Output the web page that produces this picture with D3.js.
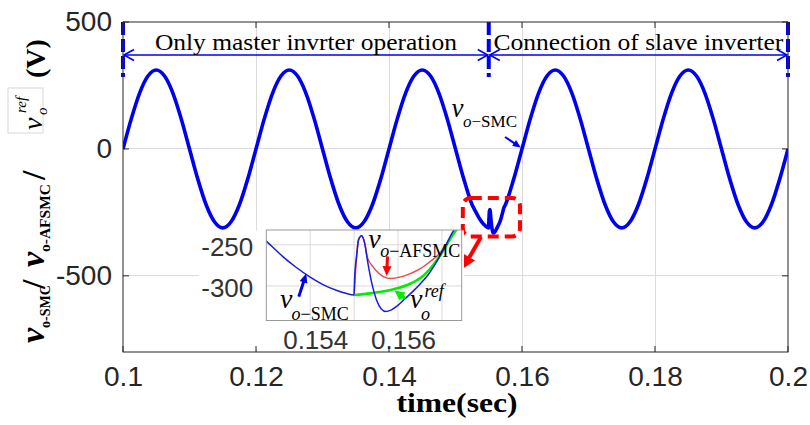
<!DOCTYPE html>
<html>
<head>
<meta charset="utf-8">
<script src="https://cdn.jsdelivr.net/npm/d3@7"></script>
<style>
  html, body { margin: 0; padding: 0; background: #fff; }
  svg { display: block; }
</style>
</head>
<body>
<svg id="chart" width="810" height="425"></svg>
<script>
// ---------- data ----------
// Output voltage of the SMC-controlled inverter (V) against time (s)
const smcTime = [
  0.1, 0.10125, 0.1025, 0.10375, 0.105, 0.10625, 0.1075, 0.10875,
  0.11, 0.11125, 0.1125, 0.11375, 0.115, 0.11625, 0.1175, 0.11875,
  0.12, 0.12125, 0.1225, 0.12375, 0.125, 0.12625, 0.1275, 0.12875,
  0.13, 0.13125, 0.1325, 0.13375, 0.135, 0.13625, 0.1375, 0.13875,
  0.14, 0.14125, 0.1425, 0.14375, 0.145, 0.14625, 0.1475, 0.14875,
  0.15, 0.15125, 0.1525,
  0.15303, 0.15337, 0.15367, 0.15399, 0.15428, 0.15458, 0.15481, 0.155,
  0.15501, 0.15506, 0.1551, 0.15517, 0.15524, 0.15531, 0.1554, 0.15551,
  0.15562, 0.15572, 0.15585, 0.15599, 0.15617, 0.15635, 0.15653, 0.15669,
  0.15683, 0.15697, 0.15712, 0.15726,
  0.1575, 0.15875,
  0.16, 0.16125, 0.1625, 0.16375, 0.165, 0.16625, 0.1675, 0.16875,
  0.17, 0.17125, 0.1725, 0.17375, 0.175, 0.17625, 0.1775, 0.17875,
  0.18, 0.18125, 0.1825, 0.18375, 0.185, 0.18625, 0.1875, 0.18875,
  0.19, 0.19125, 0.1925, 0.19375, 0.195, 0.19625, 0.1975, 0.19875,
  0.2
];
const smcVolt = [
  0, 119, 220, 287, 311, 287, 220, 119,
  0, -119, -220, -287, -311, -287, -220, -119,
  0, 119, 220, 287, 311, 287, 220, 119,
  0, -119, -220, -287, -311, -287, -220, -119,
  0, 119, 220, 287, 311, 287, 220, 119,
  0, -119, -220,
  -247, -264, -277, -289, -298, -305, -309, -311,
  -293, -262, -244, -239, -248, -271, -296, -317,
  -328, -331, -329, -324, -315, -306, -296, -286,
  -275, -262, -247, -233,
  -220, -119,
  0, 119, 220, 287, 311, 287, 220, 119,
  0, -119, -220, -287, -311, -287, -220, -119,
  0, 119, 220, 287, 311, 287, 220, 119,
  0, -119, -220, -287, -311, -287, -220, -119,
  0
];
// Output voltage with the AFSMC controller after the slave inverter connects
const afsmcTime = [0.155, 0.15506, 0.1551, 0.15517, 0.15524, 0.1553, 0.15545, 0.15568,
                   0.15583, 0.15606, 0.15628, 0.15651, 0.15674, 0.1569, 0.15708, 0.15726, 0.1575];
const afsmcVolt = [-311, -262, -244, -239, -248, -265, -278, -289,
                   -291, -289, -285, -279, -270, -263, -251, -236, -220];
// Reference voltage over the same interval
const refTime = [0.155, 0.15537, 0.1559, 0.15629, 0.15659, 0.15681, 0.15697, 0.15712, 0.15726, 0.1575];
const refVolt = [-311, -309, -304, -297, -287, -274, -262, -249, -237, -220];

const xTicks = [0.1, 0.12, 0.14, 0.16, 0.18, 0.2];
const xTickLabels = ["0.1", "0.12", "0.14", "0.16", "0.18", "0.2"];
const yTicks = [-500, 0, 500];
const yTickLabels = ["-500", "0", "500"];
const insetXTicks = [0.154, 0.155, 0.156, 0.157];
const insetXTickLabels = ["0.154", "", "0.156", ""];
const insetYTicks = [-300, -250];
const insetYTickLabels = ["-300", "-250"];
const stageBounds = [0.1, 0.155, 0.2];
const stageLabels = ["Only master invrter operation", "Connection of slave inverter"];

// ---------- setup ----------
const SERIF = '"Liberation Serif","Times New Roman",serif';
const SANS = '"Liberation Sans",Arial,sans-serif';
const BLUE = "#0000f0";
const RED = "#ff0000";
const GREEN = "#00ee00";
const AXIS = "#262626";

const plot = { left: 123, right: 788, top: 22, bottom: 352 };
const x = d3.scaleLinear().domain([0.1, 0.2]).range([plot.left, plot.right]);
const y = d3.scaleLinear().domain([-800, 500]).range([plot.bottom, plot.top]);

const svg = d3.select("#chart");
const defs = svg.append("defs");
defs.append("clipPath").attr("id", "plotClip").append("rect")
  .attr("x", plot.left).attr("y", plot.top)
  .attr("width", plot.right - plot.left).attr("height", plot.bottom - plot.top);

const pairs = (ts, vs) => ts.map((t, i) => [t, vs[i]]);

function arrow(g, x1, y1, x2, y2, color, w, hl, hw) {
  const dx = x2 - x1, dy = y2 - y1, L = Math.hypot(dx, dy);
  const ux = dx / L, uy = dy / L;
  const bx = x2 - ux * hl, by = y2 - uy * hl;
  g.append("line").attr("x1", x1).attr("y1", y1)
    .attr("x2", bx + ux).attr("y2", by + uy)
    .attr("stroke", color).attr("stroke-width", w);
  g.append("path")
    .attr("d", `M${x2},${y2}L${bx - uy * hw / 2},${by + ux * hw / 2}L${bx + uy * hw / 2},${by - ux * hw / 2}Z`)
    .attr("fill", color);
}

// italic "v" followed by a subscript such as "o−SMC", as one text element
function vSub(g, px, py, sub, vSize, subSize, subDx, subDy) {
  const t = g.append("text").attr("x", px).attr("y", py).attr("font-family", SERIF);
  t.append("tspan").attr("font-style", "italic").attr("font-size", vSize).text("v");
  t.append("tspan").attr("x", px + subDx).attr("y", py + subDy)
    .attr("font-style", "italic").attr("font-size", subSize).text("o");
  t.append("tspan").attr("font-size", subSize).text(sub);
}

// ---------- grid ----------
const grid = svg.append("g").attr("stroke", "#dcdcdc").attr("stroke-width", 1)
  .attr("shape-rendering", "crispEdges");
grid.selectAll("line.gx").data(xTicks.slice(1, -1)).join("line").attr("class", "gx")
  .attr("x1", d => x(d)).attr("x2", d => x(d)).attr("y1", plot.top).attr("y2", plot.bottom);
grid.selectAll("line.gy").data(yTicks.filter(v => v < 500)).join("line").attr("class", "gy")
  .attr("y1", d => y(d)).attr("y2", d => y(d)).attr("x1", plot.left).attr("x2", plot.right);

// ---------- main curve ----------
const line = d3.line().x(d => x(d[0])).y(d => y(d[1])).curve(d3.curveMonotoneX);
svg.append("path").datum(pairs(smcTime, smcVolt))
  .attr("d", line).attr("fill", "none").attr("stroke", BLUE)
  .attr("stroke-width", 3.6).attr("stroke-linejoin", "round")
  .attr("clip-path", "url(#plotClip)");

// ---------- operating stages ----------
const stages = svg.append("g");
stageBounds.forEach(t => {
  stages.append("line")
    .attr("x1", x(t)).attr("x2", x(t)).attr("y1", y(500)).attr("y2", y(283))
    .attr("stroke", BLUE).attr("stroke-width", 4).attr("stroke-dasharray", "13,4");
});
const arrowV = 370;
const stageWidths = [302, 290];
for (let i = 0; i < stageLabels.length; i++) {
  const a = x(stageBounds[i]) + 1, b = x(stageBounds[i + 1]) - 1, yy = y(arrowV);
  stages.append("line").attr("x1", a).attr("x2", b).attr("y1", yy).attr("y2", yy)
    .attr("stroke", BLUE).attr("stroke-width", 1.6);
  stages.append("path")
    .attr("d", `M${a + 10},${yy - 5.5}L${a},${yy}L${a + 10},${yy + 5.5}M${b - 10},${yy - 5.5}L${b},${yy}L${b - 10},${yy + 5.5}`)
    .attr("fill", "none").attr("stroke", BLUE).attr("stroke-width", 1.6);
  stages.append("text")
    .attr("x", (a + b) / 2).attr("y", y(391.5))
    .attr("text-anchor", "middle").attr("font-family", SERIF).attr("font-size", 24)
    .attr("textLength", stageWidths[i]).attr("lengthAdjust", "spacingAndGlyphs")
    .text(stageLabels[i]);
}

// ---------- annotations on the main plot ----------
const ann = svg.append("g");
vSub(ann, x(0.1494), y(127), "−SMC", 27, 17, 11.5, 10);
arrow(ann, x(0.15744), y(47), x(0.15982), y(6), BLUE, 2, 8, 7);
ann.append("rect")
  .attr("x", x(0.1511)).attr("y", y(-193))
  .attr("width", x(0.1597) - x(0.1511)).attr("height", y(-345) - y(-193))
  .attr("rx", 8).attr("fill", "none").attr("stroke", RED)
  .attr("stroke-width", 4).attr("stroke-dasharray", "11,6");
arrow(ann, x(0.15383), y(-347), x(0.15113), y(-471), RED, 4, 13, 13);

// ---------- zoomed inset ----------
const ix = d3.scaleLinear().domain([0.153, 0.15745]).range([266.3, 461.7]);
const iy = d3.scaleLinear().domain([-342, -232]).range([320.5, 230]);
defs.append("clipPath").attr("id", "insetClip").append("rect")
  .attr("x", 266.3).attr("y", 230).attr("width", 195.4).attr("height", 90.5);

const inset = svg.append("g");
inset.append("rect").attr("x", 199).attr("y", 230.5).attr("width", 265).attr("height", 118.5)
  .attr("fill", "#fff");
const ig = inset.append("g").attr("stroke", "#dadada").attr("stroke-width", 1);
ig.selectAll("line.ix").data(insetXTicks).join("line").attr("class", "ix")
  .attr("x1", d => ix(d)).attr("x2", d => ix(d)).attr("y1", 230).attr("y2", 320.5);
ig.selectAll("line.iy").data(insetYTicks).join("line").attr("class", "iy")
  .attr("y1", d => iy(d)).attr("y2", d => iy(d)).attr("x1", 266.3).attr("x2", 461.7);

const iline = d3.line().x(d => ix(d[0])).y(d => iy(d[1])).curve(d3.curveMonotoneX);
const ic = inset.append("g").attr("clip-path", "url(#insetClip)").attr("fill", "none");
ic.append("path").datum(pairs(afsmcTime, afsmcVolt)).attr("d", iline)
  .attr("stroke", "#f04545").attr("stroke-width", 1.5);
ic.append("path").datum(pairs(refTime, refVolt)).attr("d", iline)
  .attr("stroke", GREEN).attr("stroke-width", 2.6);
ic.append("path").datum(pairs(smcTime, smcVolt)).attr("d", iline)
  .attr("stroke", "#1a1ae6").attr("stroke-width", 1.5);

inset.append("rect").attr("x", 266.3).attr("y", 230).attr("width", 195.4).attr("height", 90.5)
  .attr("fill", "none").attr("stroke", "#9a9a9a").attr("stroke-width", 1);

inset.append("g")
  .attr("transform", "translate(0,320.5)")
  .call(d3.axisBottom(ix).tickValues(insetXTicks).tickFormat((d, i) => insetXTickLabels[i])
        .tickSize(0).tickPadding(10))
  .call(g => g.select(".domain").remove())
  .selectAll("text").attr("font-family", SANS).attr("font-size", 26).attr("fill", "#333")
  .attr("dx", 5);
inset.append("g")
  .attr("transform", "translate(266.3,0)")
  .call(d3.axisLeft(iy).tickValues(insetYTicks).tickFormat((d, i) => insetYTickLabels[i])
        .tickSize(0).tickPadding(13))
  .call(g => g.select(".domain").remove())
  .selectAll("text").attr("font-family", SANS).attr("font-size", 26).attr("fill", "#333")
  .attr("dy", "0.42em");

// inset labels and pointers
vSub(inset, ix(0.15532), iy(-254), "−AFSMC", 28, 18, 12, 8.5);
arrow(inset, ix(0.15576), iy(-264), ix(0.15574), iy(-288), RED, 3, 10, 9);
vSub(inset, ix(0.15331), iy(-327), "−SMC", 28, 18, 11.7, 11.7);
arrow(inset, ix(0.15374), iy(-313), ix(0.15391), iy(-285), BLUE, 3, 9, 8);
{
  // v with stacked subscript "o" and superscript "ref"
  const px = ix(0.15627), py = iy(-327);
  const t = inset.append("text").attr("x", px).attr("y", py)
    .attr("font-family", SERIF).attr("font-style", "italic");
  t.append("tspan").attr("font-size", 28).text("v");
  t.append("tspan").attr("x", px + 14.5).attr("y", py - 11.5).attr("font-size", 18).text("ref");
  t.append("tspan").attr("x", px + 11).attr("y", py + 12).attr("font-size", 18).text("o");
}
arrow(inset, ix(0.15616), iy(-315), ix(0.15592), iy(-305.5), GREEN, 3.5, 10, 10);

// ---------- frame, ticks and tick labels ----------
svg.append("rect")
  .attr("x", plot.left).attr("y", plot.top)
  .attr("width", plot.right - plot.left).attr("height", plot.bottom - plot.top)
  .attr("fill", "none").attr("stroke", AXIS).attr("stroke-width", 1);
const tk = svg.append("g").attr("stroke", AXIS).attr("stroke-width", 1);
xTicks.forEach(t => {
  tk.append("line").attr("x1", x(t)).attr("x2", x(t)).attr("y1", plot.bottom).attr("y2", plot.bottom - 6);
  tk.append("line").attr("x1", x(t)).attr("x2", x(t)).attr("y1", plot.top).attr("y2", plot.top + 6);
});
yTicks.forEach(v => {
  tk.append("line").attr("y1", y(v)).attr("y2", y(v)).attr("x1", plot.left).attr("x2", plot.left + 6);
  tk.append("line").attr("y1", y(v)).attr("y2", y(v)).attr("x1", plot.right).attr("x2", plot.right - 6);
});

svg.append("g").attr("transform", `translate(0,${plot.bottom})`)
  .call(d3.axisBottom(x).tickValues(xTicks).tickFormat((d, i) => xTickLabels[i])
        .tickSize(0).tickPadding(14))
  .call(g => g.select(".domain").remove())
  .selectAll("text").attr("font-family", SANS).attr("font-size", 28).attr("fill", AXIS);
svg.append("g").attr("transform", `translate(${plot.left},0)`)
  .call(d3.axisLeft(y).tickValues(yTicks).tickFormat((d, i) => yTickLabels[i])
        .tickSize(0).tickPadding(11))
  .call(g => g.select(".domain").remove())
  .selectAll("text").attr("font-family", SANS).attr("font-size", 28).attr("fill", AXIS);

// ---------- axis titles ----------
svg.append("text")
  .attr("x", 457).attr("y", 412).attr("text-anchor", "middle")
  .attr("font-family", SERIF).attr("font-weight", "bold").attr("font-size", 27)
  .attr("textLength", 121).attr("lengthAdjust", "spacingAndGlyphs")
  .text("time(sec)");

// vertical title, read bottom-to-top; each piece is placed at a screen
// point (sx, sy), which inside the rotated frame is (x = -sy, y = sx)
svg.append("rect").attr("x", 8).attr("y", 88).attr("width", 35).attr("height", 45)
  .attr("fill", "none").attr("stroke", "#d8d8d8").attr("stroke-width", 1);
const yTitle = svg.append("text")
  .attr("transform", "rotate(-90)")
  .attr("font-family", SERIF).attr("fill", "#000");
const pieces = [
  { sx: 44, sy: 343, s: "v", size: 34, bold: true, italic: true },
  { sx: 50, sy: 328, s: "o-SMC", size: 14, bold: true },
  { sx: 45, sy: 289, s: "/", size: 34, bold: true },
  { sx: 44, sy: 267, s: "v", size: 34, bold: true, italic: true },
  { sx: 50, sy: 252, s: "o-AFSMC", size: 15.5, bold: true },
  { sx: 45, sy: 180, s: "/", size: 34, bold: true },
  { sx: 42, sy: 130, s: "v", size: 28, italic: true },
  { sx: 47, sy: 115, s: "o", size: 15, italic: true },
  { sx: 26, sy: 113, s: "ref", size: 15, italic: true },
  { sx: 45, sy: 78, s: "(V)", size: 28, bold: true }
];
pieces.forEach(p => {
  yTitle.append("tspan")
    .attr("x", -p.sy).attr("y", p.sx)
    .attr("font-size", p.size)
    .attr("font-weight", p.bold ? "bold" : "normal")
    .attr("font-style", p.italic ? "italic" : "normal")
    .text(p.s);
});
</script>
</body>
</html>
